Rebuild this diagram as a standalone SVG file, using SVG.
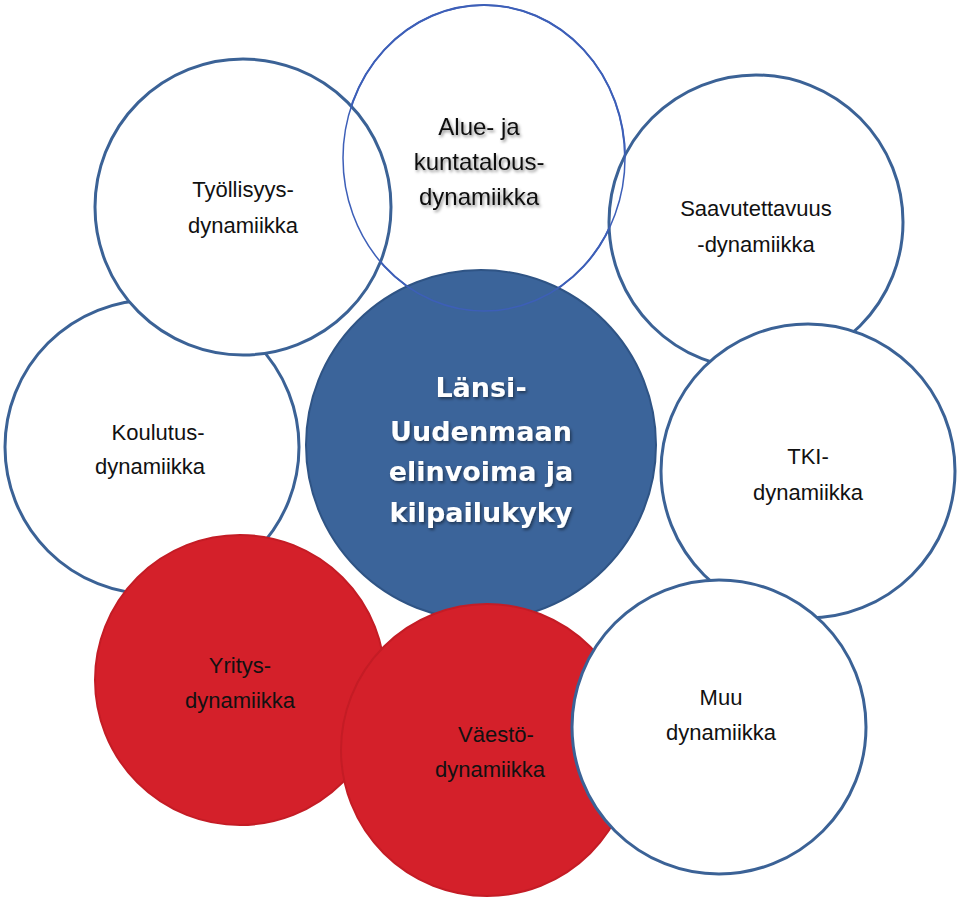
<svg xmlns="http://www.w3.org/2000/svg" width="960" height="905" viewBox="0 0 960 905">
<defs>
<style>
.w{fill:#fff;stroke:#3b6296;stroke-width:3}
.r{fill:#d4202a;stroke:#c41c25;stroke-width:2}
.t{font-family:"Liberation Sans",Arial,sans-serif;font-size:22px;fill:#111;text-anchor:middle}
.c{font-family:"DejaVu Sans",sans-serif;font-weight:bold;font-size:27px;fill:#fff;text-anchor:middle}
</style>
<filter id="sh" x="-20%" y="-20%" width="140%" height="140%"><feDropShadow dx="1.5" dy="2" stdDeviation="1.5" flood-color="#000" flood-opacity="0.45"/></filter>
</defs>
<rect width="960" height="905" fill="#fff"/>
<g id="alue"><ellipse cx="484" cy="158" rx="141" ry="153" fill="#fff" stroke="#3d5fb8" stroke-width="2"/>
<text class="t" filter="url(#sh)" style="font-size:24px"><tspan x="479" y="135">Alue- ja</tspan><tspan x="479" y="170">kuntatalous-</tspan><tspan x="479" y="205">dynamiikka</tspan></text></g>
<g id="koulutus"><circle class="w" cx="152" cy="447" r="147"/>
<text class="t"><tspan x="158" y="440">Koulutus-</tspan><tspan x="150" y="474">dynamiikka</tspan></text></g>
<g id="tyollisyys"><circle class="w" cx="243" cy="207" r="148"/>
<text class="t"><tspan x="243" y="197">Työllisyys-</tspan><tspan x="243" y="233">dynamiikka</tspan></text></g>
<g id="saavutettavuus"><circle class="w" cx="756" cy="222" r="147"/>
<text class="t"><tspan x="756" y="216">Saavutettavuus</tspan><tspan x="756" y="252">-dynamiikka</tspan></text></g>
<g id="center"><circle cx="481" cy="445" r="175" fill="#3b649a" stroke="#2f5485" stroke-width="2"/>
<text class="c" filter="url(#sh)"><tspan x="481" y="397">Länsi-</tspan><tspan x="481" y="441">Uudenmaan</tspan><tspan x="481" y="481">elinvoima ja</tspan><tspan x="481" y="522">kilpailukyky</tspan></text></g>
<g id="alue-outline"><ellipse cx="484" cy="158" rx="141" ry="153" fill="none" stroke="#3d5fb8" stroke-width="1.5"/></g>
<g id="tki"><circle class="w" cx="808" cy="471" r="147"/>
<text class="t"><tspan x="808" y="464">TKI-</tspan><tspan x="808" y="500">dynamiikka</tspan></text></g>
<g id="yritys"><circle class="r" cx="240" cy="680" r="145"/>
<text class="t"><tspan x="240" y="673">Yritys-</tspan><tspan x="240" y="708">dynamiikka</tspan></text></g>
<g id="vaesto"><circle class="r" cx="487" cy="750" r="146"/>
<text class="t"><tspan x="496" y="742">Väestö-</tspan><tspan x="490" y="777">dynamiikka</tspan></text></g>
<g id="muu"><circle class="w" cx="719" cy="727" r="147"/>
<text class="t"><tspan x="721" y="705">Muu</tspan><tspan x="721" y="740">dynamiikka</tspan></text></g>
<g id="connectors"></g>
</svg>
